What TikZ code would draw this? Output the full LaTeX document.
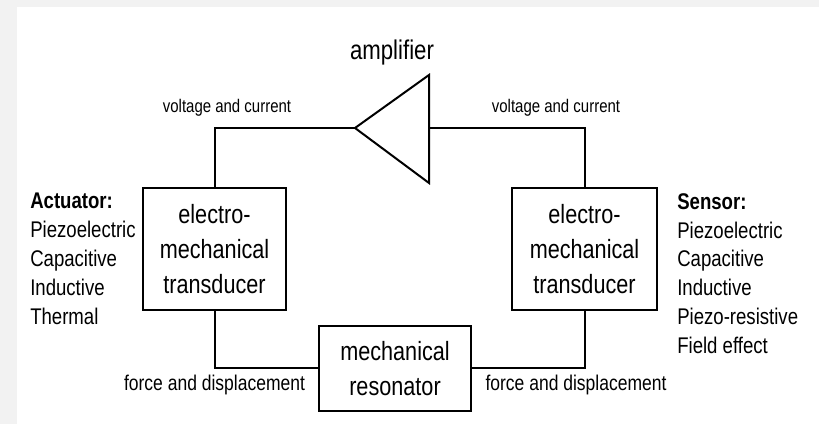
\documentclass[tikz,border=0pt]{standalone}
\usepackage{fontspec}
\setmainfont{Liberation Sans}[FakeStretch=0.82]
\usepackage{tikz}
\usetikzlibrary{positioning}

\begin{document}
\begin{tikzpicture}[
    x=0.75pt, y=-0.75pt,
    box/.style={rectangle, draw, line width=1.5pt, align=center, inner sep=0pt, font=\fontsize{19.8}{26.3}\selectfont},
    lbl/.style={font=\fontsize{13.7}{16}\selectfont},
    flbl/.style={font=\fontsize{16}{19}\selectfont},
    lst/.style={align=left, anchor=north west, inner sep=0pt, font=\fontsize{17}{21.7}\selectfont},
    wire/.style={line width=1.5pt},
]
    \useasboundingbox (0,0) rectangle (819,424);
    \fill[black!5] (0,0) rectangle (819,424);
    \fill[white] (17,7) rectangle (819,424);

    \node[box, minimum width=107pt, minimum height=91.5pt] (t1) at (214.5,249) {electro-\\mechanical\\transducer};
    \node[box, minimum width=108.5pt, minimum height=91.5pt] (t2) at (584.5,249) {electro-\\mechanical\\transducer};
    \node[box, minimum width=114pt, minimum height=63.5pt] (res) at (395,368.5) {mechanical\\resonator};

    % amplifier
    \coordinate (tip) at (355,128);
    \coordinate (ampin) at (429,128);
    \draw[wire, line join=miter] (429,75) -- (tip) -- (429,183) -- cycle;
    \node[font=\fontsize{20.3}{24}\selectfont] (amp) at (392,53) {amplifier};

    \draw[wire] (t1.north) |- (tip);
    \draw[wire] (ampin) -| (t2.north);
    \draw[wire] (t1.south) |- (res.west);
    \draw[wire] (res.east) -| (t2.south);

    \node[lbl] (v1) at (227,108) {voltage and current};
    \node[lbl] (v2) at (556,108) {voltage and current};
    \node[flbl] (f1) at (214.5,385) {force and displacement};
    \node[flbl] (f2) at (576,385) {force and displacement};

    \node[lst] (act) at (30,193) {\textbf{Actuator:}\\Piezoelectric\\Capacitive\\Inductive\\Thermal};
    \node[lst] (sen) at (677,193) {\textbf{Sensor:}\\Piezoelectric\\Capacitive\\Inductive\\Piezo-resistive\\Field effect};
\end{tikzpicture}
\end{document}
